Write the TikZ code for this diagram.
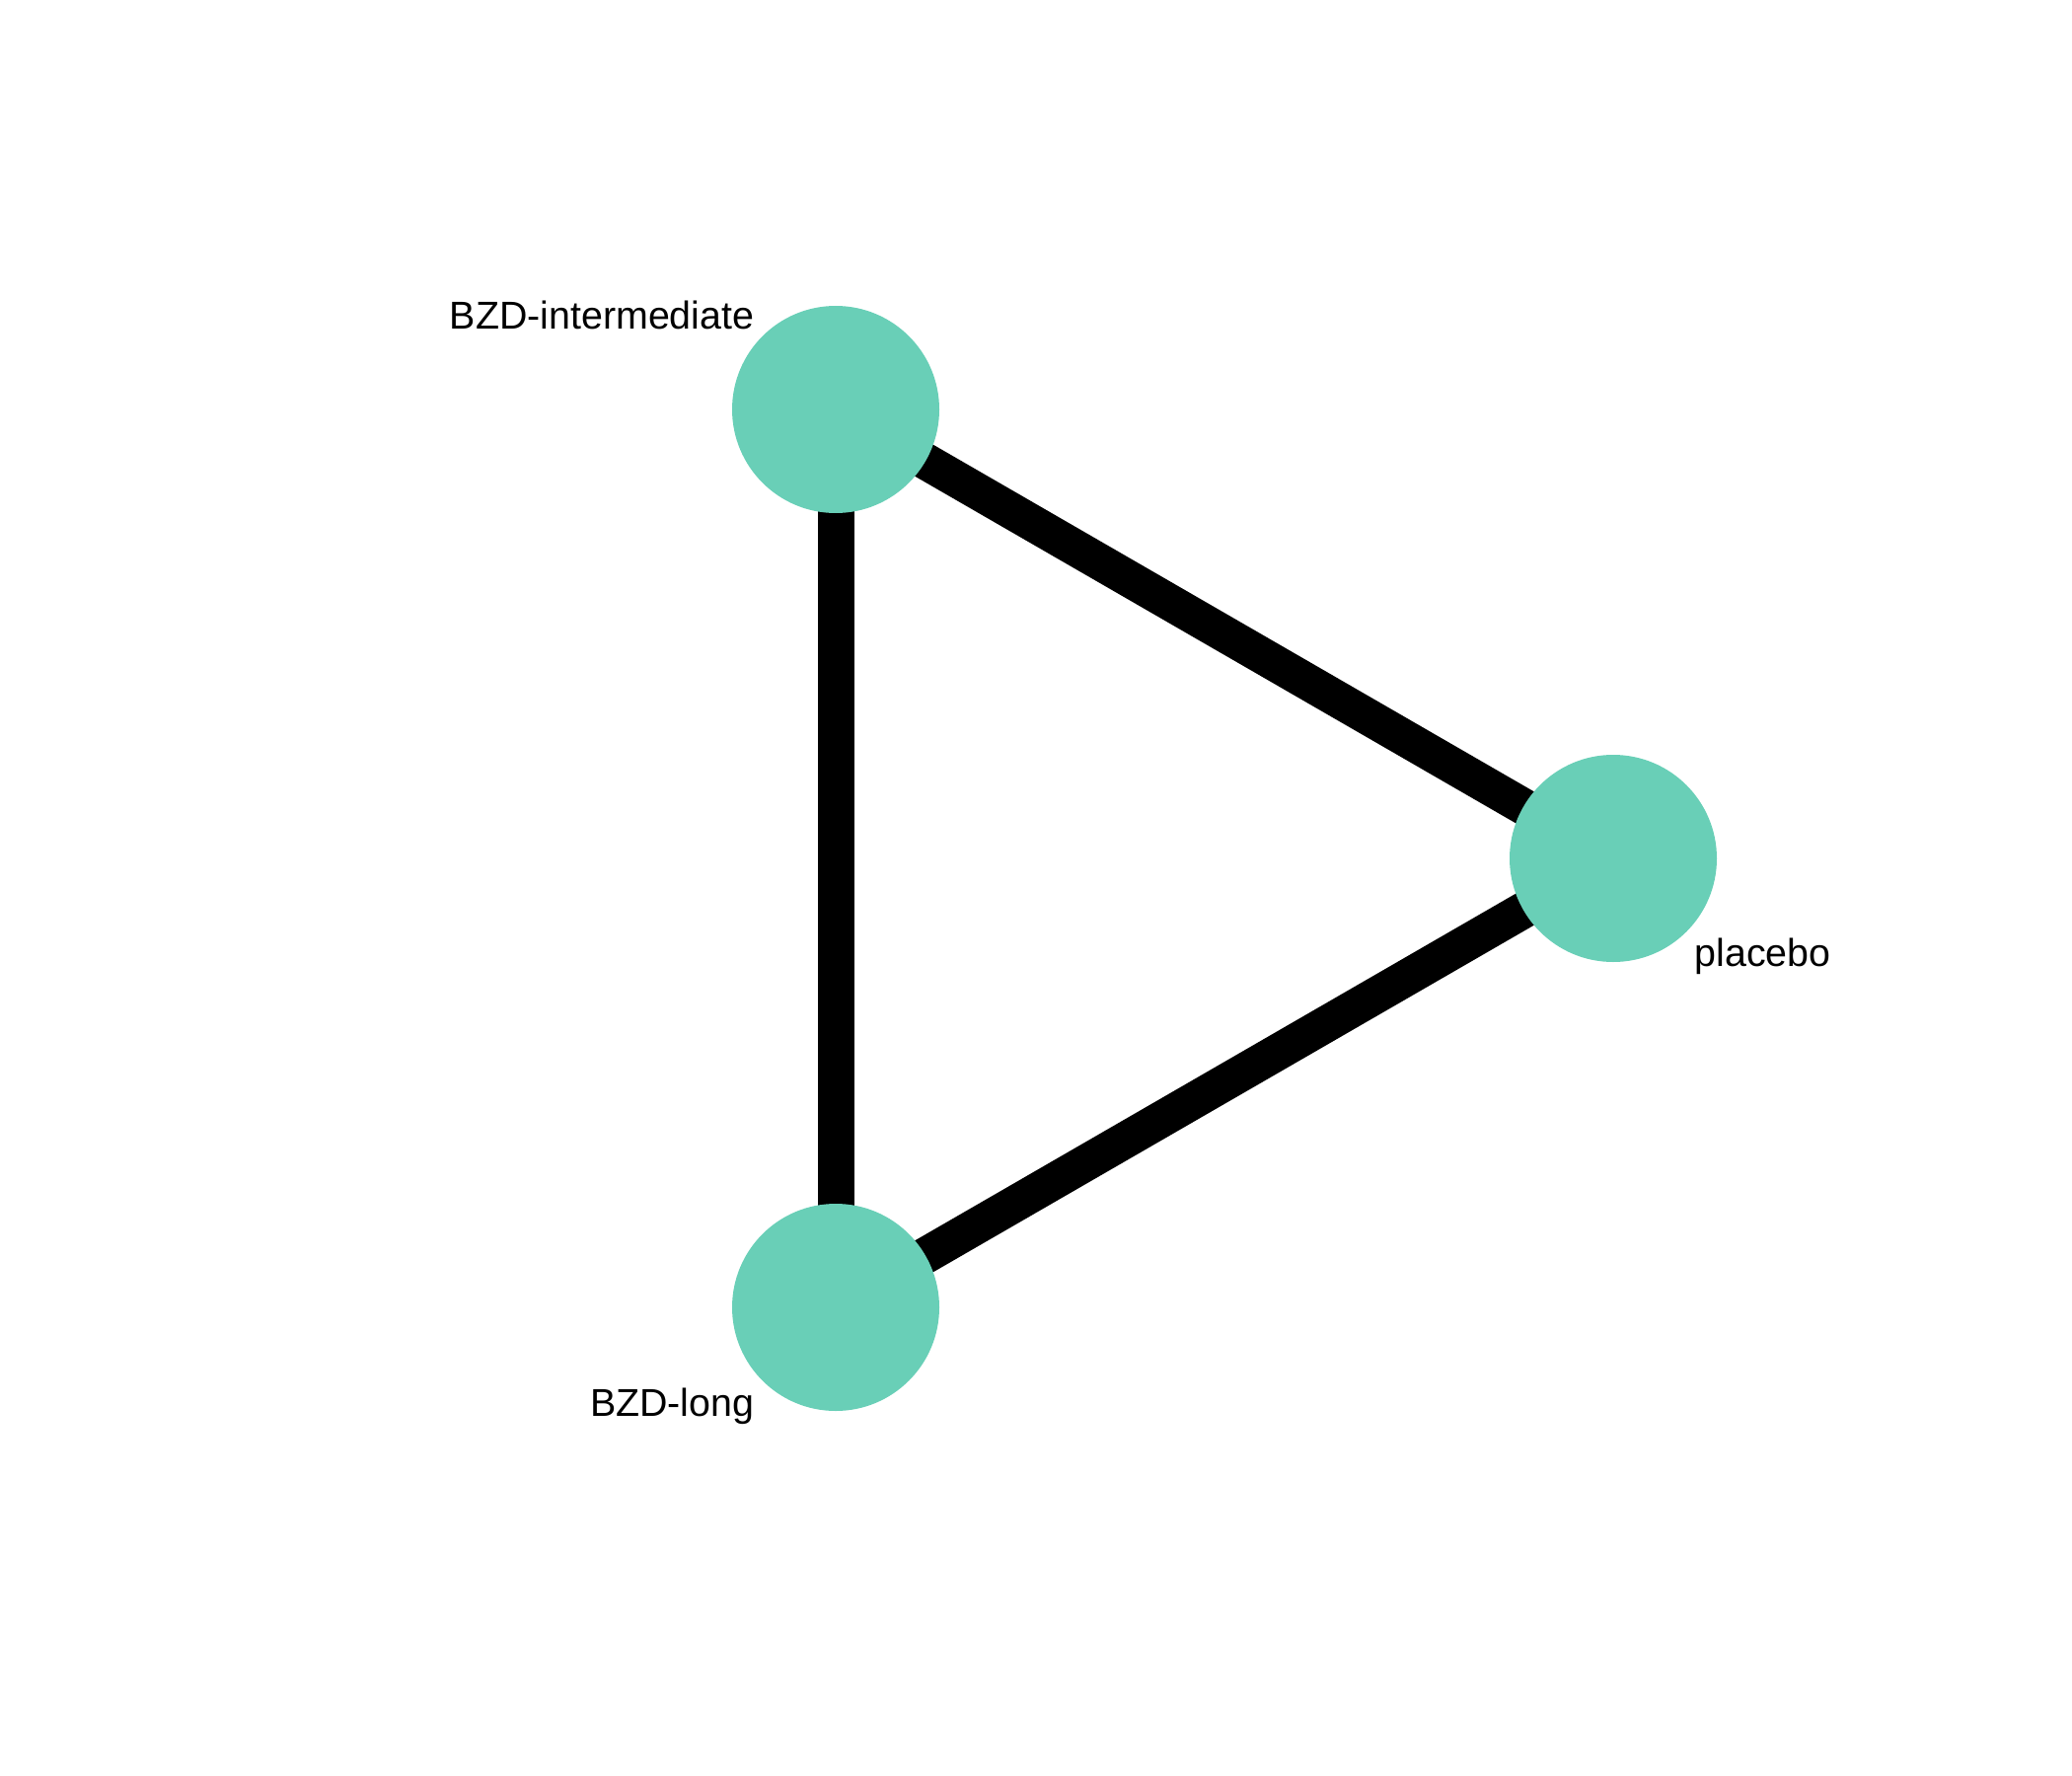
\documentclass[tikz,border=0pt]{standalone}
\usepackage{fontspec}
\setmainfont{Liberation Sans}
\usetikzlibrary{backgrounds}
\definecolor{nodeteal}{RGB}{105,207,183}
\begin{document}
\begin{tikzpicture}[x=0.1mm,y=-0.1mm,
  treatment/.style={circle,fill=nodeteal,draw=none,minimum size=21mm,inner sep=0pt},
  lbl/.style={inner sep=0pt,font=\fontsize{11.2}{13}\selectfont},
  comparison/.style={line width=3.7mm,black}]
  \useasboundingbox (0,0) rectangle (2100,1800);
  % treatments
  \node[treatment] (inter) at (847,415) {};
  \node[treatment] (plac) at (1635,870) {};
  \node[treatment] (long) at (847,1325) {};
  % labels
  \node[lbl,anchor=base east] (linter) at (765,334) {BZD-intermediate};
  \node[lbl,anchor=base west] (lplac) at (1717,979) {placebo};
  \node[lbl,anchor=base east] (llong) at (765,1435) {BZD-long};
  % direct comparisons
  \begin{pgfonlayer}{background}
    \draw[comparison] (inter.center) -- (plac.center);
    \draw[comparison] (plac.center) -- (long.center);
    \draw[comparison] (inter.center) -- (long.center);
  \end{pgfonlayer}
\end{tikzpicture}
\end{document}
